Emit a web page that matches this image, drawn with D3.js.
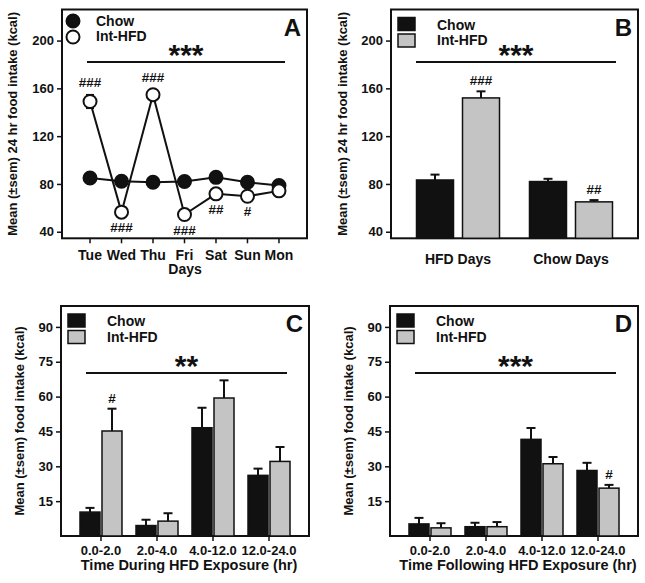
<!DOCTYPE html>
<html>
<head>
<meta charset="utf-8">
<script src="https://cdn.jsdelivr.net/npm/d3@7"></script>
<style>
  body { margin: 0; background: #fff; }
  text { font-family: "Liberation Sans", Arial, sans-serif; font-weight: bold; fill: #111; }
</style>
</head>
<body>
<svg id="chart" width="645" height="583"></svg>
<script>
// ---- data ----
var days = ["Tue", "Wed", "Thu", "Fri", "Sat", "Sun", "Mon"];
var chowDaily = [85, 82.2, 81.4, 82, 85.5, 81.4, 78.6];
var chowDailySem = [2, 2, 2, 2, 2, 2, 2];
var hfdDaily = [149, 56.4, 154.7, 54.4, 71.7, 69.7, 74.2];
var hfdDailySem = [5.5, 2, 4, 2, 2, 2, 2];
var hfdDailySig = ["###", "###", "###", "###", "##", "#", ""];

var dayTypes = ["HFD Days", "Chow Days"];
var chowDayType = [83.3, 82];
var chowDayTypeSem = [4.5, 2.3];
var hfdDayType = [152, 65];
var hfdDayTypeSem = [5.5, 1.5];
var hfdDayTypeSig = ["###", "##"];

var bins = ["0.0-2.0", "2.0-4.0", "4.0-12.0", "12.0-24.0"];
var chowDuring = [10.3, 4.5, 46.6, 26.1];
var chowDuringSem = [1.8, 2.5, 8.6, 2.9];
var hfdDuring = [45.2, 6.4, 59.4, 32.1];
var hfdDuringSem = [9.6, 3.4, 7.6, 6.2];
var hfdDuringSig = ["#", "", "", ""];

var chowAfter = [5.2, 4, 41.6, 28.2];
var chowAfterSem = [2.6, 1.7, 4.9, 3.3];
var hfdAfter = [3.5, 4, 31.1, 20.6];
var hfdAfterSem = [2, 2, 2.9, 1.4];
var hfdAfterSig = ["", "", "", "#"];

var kcalTicks = [40, 80, 120, 160, 200];
var hourTicks = [15, 30, 45, 60, 75, 90];
var seriesNames = ["Chow", "Int-HFD"];

var svg = d3.select("#chart");
var GRAY = "#c4c4c4";

// frame, y axis, title, panel letter, significance bar
function setupPanel(box, yDomain, yTicks, yTitle, titleOff, letter, stars) {
    var g = svg.append("g");
    var y = d3.scaleLinear().domain(yDomain).range([box.b, box.t]);

    var ax = g.append("g")
        .attr("transform", "translate(" + box.l + ",0)")
        .call(d3.axisLeft(y).tickValues(yTicks).tickSize(5).tickPadding(3));
    ax.select(".domain").remove();
    ax.selectAll(".tick line").attr("stroke", "#111").attr("stroke-width", 1.5);
    ax.selectAll(".tick text")
        .attr("font-size", 13)
        .attr("font-family", "Liberation Sans, Arial, sans-serif")
        .attr("font-weight", "bold");

    g.append("text")
        .attr("transform", "rotate(-90)")
        .attr("x", -(box.t + box.b) / 2)
        .attr("y", box.l - titleOff)
        .attr("text-anchor", "middle")
        .attr("font-size", 13)
        .text(yTitle);

    g.append("rect")
        .attr("x", box.l).attr("y", box.t)
        .attr("width", box.r - box.l).attr("height", box.b - box.t)
        .attr("fill", "none").attr("stroke", "#111").attr("stroke-width", 2);

    g.append("text")
        .attr("x", box.r - 6).attr("y", box.t + 26)
        .attr("text-anchor", "end")
        .attr("font-size", 24)
        .text(letter);

    var x1 = box.l + 25, x2 = box.r - 22;
    g.append("line")
        .attr("x1", x1).attr("x2", x2)
        .attr("y1", box.sigY).attr("y2", box.sigY)
        .attr("stroke", "#111").attr("stroke-width", 2);
    g.append("text")
        .attr("x", (x1 + x2) / 2).attr("y", box.sigY + 3)
        .attr("text-anchor", "middle")
        .attr("font-size", 30)
        .text(stars);

    return { g: g, y: y };
}

function squareLegend(g, box) {
    var leg = g.append("g");
    seriesNames.forEach(function(name, i) {
        leg.append("rect")
            .attr("x", box.l + 7).attr("y", box.t + 8 + i * 16.5)
            .attr("width", 17).attr("height", 13)
            .attr("fill", i == 0 ? "#111" : GRAY)
            .attr("stroke", "#111").attr("stroke-width", 1.5);
        leg.append("text")
            .attr("x", box.l + 46).attr("y", box.t + 20 + i * 15.5)
            .attr("font-size", 14)
            .text(name);
    });
}

function errUp(g, x, yTop, yBase, half) {
    g.append("line").attr("x1", x).attr("x2", x).attr("y1", yBase).attr("y2", yTop)
        .attr("stroke", "#111").attr("stroke-width", 2);
    g.append("line").attr("x1", x - half).attr("x2", x + half).attr("y1", yTop).attr("y2", yTop)
        .attr("stroke", "#111").attr("stroke-width", 2);
}

// grouped bar panel
function barPanel(box, cats, chow, chowSem, hfd, hfdSem, sig, yDomain, yTicks, yTitle, titleOff,
                  letter, stars, xTitle, opts) {
    var p = setupPanel(box, yDomain, yTicks, yTitle, titleOff, letter, stars);
    var g = p.g, y = p.y;
    var x = d3.scalePoint().domain(cats).range([box.l, box.r]).padding(opts.pad);

    if (opts.ticks) {
        cats.forEach(function(c) {
            g.append("line").attr("x1", x(c)).attr("x2", x(c))
                .attr("y1", box.b).attr("y2", box.b + 5)
                .attr("stroke", "#111").attr("stroke-width", 1.5);
        });
    }
    g.selectAll(".xlab").data(cats).enter().append("text")
        .attr("x", function(d) { return x(d); })
        .attr("y", box.b + opts.labOff)
        .attr("text-anchor", "middle")
        .attr("font-size", opts.labSize)
        .text(function(d) { return d; });
    if (xTitle) {
        g.append("text")
            .attr("x", (box.l + box.r) / 2 + 4).attr("y", box.b + 33.5)
            .attr("text-anchor", "middle").attr("font-size", 14.5)
            .text(xTitle);
    }

    var bw = opts.bw, gap = opts.gap;
    var series = [
        { v: chow, s: chowSem, off: -gap / 2 - bw, fill: "#111" },
        { v: hfd, s: hfdSem, off: gap / 2, fill: GRAY }
    ];
    series.forEach(function(se) {
        cats.forEach(function(c, i) {
            var bx = x(c) + se.off;
            errUp(g, bx + bw / 2, y(se.v[i] + se.s[i]), y(se.v[i]), 4.5);
            g.append("rect")
                .attr("x", bx).attr("y", y(se.v[i]))
                .attr("width", bw).attr("height", y(yDomain[0]) - y(se.v[i]))
                .attr("fill", se.fill).attr("stroke", "#111").attr("stroke-width", 1.5);
        });
    });
    cats.forEach(function(c, i) {
        if (!sig[i]) return;
        g.append("text")
            .attr("x", x(c) + gap / 2 + bw / 2)
            .attr("y", y(hfd[i] + hfdSem[i]) - 6)
            .attr("text-anchor", "middle").attr("font-size", 13.5)
            .text(sig[i]);
    });
    squareLegend(g, box);
}

// ---- Panel A ----
(function() {
    var box = { l: 62, r: 307, t: 9.5, b: 238.3, sigY: 62 };
    var p = setupPanel(box, [34.5, 226], kcalTicks, "Mean (\u00b1sem) 24 hr food intake (kcal)", 45, "A", "***");
    var g = p.g, y = p.y;
    var x = d3.scalePoint().domain(days).range([box.l, box.r]).padding(0.89);

    days.forEach(function(d) {
        g.append("line").attr("x1", x(d)).attr("x2", x(d))
            .attr("y1", box.b).attr("y2", box.b + 5)
            .attr("stroke", "#111").attr("stroke-width", 1.5);
    });
    g.selectAll(".xlab").data(days).enter().append("text")
        .attr("x", function(d) { return x(d); })
        .attr("y", box.b + 21.5)
        .attr("text-anchor", "middle").attr("font-size", 14)
        .text(function(d) { return d; });
    g.append("text").attr("x", 185).attr("y", box.b + 36)
        .attr("text-anchor", "middle").attr("font-size", 14).text("Days");

    var line = d3.line()
        .x(function(d, i) { return x(days[i]); })
        .y(function(d) { return y(d); });

    var sets = [
        { v: chowDaily, s: chowDailySem, fill: "#111" },
        { v: hfdDaily, s: hfdDailySem, fill: "#fff" }
    ];
    sets.forEach(function(se) {
        g.append("path").attr("d", line(se.v))
            .attr("fill", "none").attr("stroke", "#111").attr("stroke-width", 2);
        se.v.forEach(function(v, i) {
            var cx = x(days[i]);
            g.append("line").attr("x1", cx).attr("x2", cx)
                .attr("y1", y(v - se.s[i])).attr("y2", y(v + se.s[i]))
                .attr("stroke", "#111").attr("stroke-width", 2);
            [v - se.s[i], v + se.s[i]].forEach(function(e) {
                g.append("line").attr("x1", cx - 4).attr("x2", cx + 4)
                    .attr("y1", y(e)).attr("y2", y(e))
                    .attr("stroke", "#111").attr("stroke-width", 2);
            });
        });
        g.selectAll(null).data(se.v).enter().append("circle")
            .attr("cx", function(d, i) { return x(days[i]); })
            .attr("cy", function(d) { return y(d); })
            .attr("r", 6.5)
            .attr("fill", se.fill).attr("stroke", "#111").attr("stroke-width", 2);
    });

    hfdDaily.forEach(function(v, i) {
        if (!hfdDailySig[i]) return;
        var above = v > chowDaily[i];
        g.append("text")
            .attr("x", x(days[i]))
            .attr("y", above ? y(v + hfdDailySem[i]) - 8 : y(v) + 20)
            .attr("text-anchor", "middle").attr("font-size", 13.5)
            .text(hfdDailySig[i]);
    });

    // legend
    seriesNames.forEach(function(name, i) {
        g.append("circle").attr("cx", box.l + 11).attr("cy", box.t + 11.5 + i * 16)
            .attr("r", 6.5).attr("fill", i == 0 ? "#111" : "#fff")
            .attr("stroke", "#111").attr("stroke-width", 2);
        g.append("text").attr("x", box.l + 34).attr("y", box.t + 16 + i * 15.3)
            .attr("font-size", 14).text(name);
    });
})();

// ---- Panel B ----
barPanel({ l: 391, r: 638, t: 9.5, b: 238.3, sigY: 62 }, dayTypes,
    chowDayType, chowDayTypeSem, hfdDayType, hfdDayTypeSem, hfdDayTypeSig,
    [34.5, 226], kcalTicks, "Mean (\u00b1sem) 24 hr food intake (kcal)", 44, "B", "***", null,
    { pad: 0.593, bw: 37, gap: 9, ticks: false, labOff: 26, labSize: 14 });

// ---- Panel C ----
barPanel({ l: 61, r: 309, t: 306, b: 536, sigY: 373 }, bins,
    chowDuring, chowDuringSem, hfdDuring, hfdDuringSem, hfdDuringSig,
    [0, 99], hourTicks, "Mean (\u00b1sem) food intake (kcal)", 37, "C", "**",
    "Time During HFD Exposure (hr)",
    { pad: 0.714, bw: 20, gap: 2, ticks: true, labOff: 19, labSize: 13 });

// ---- Panel D ----
barPanel({ l: 390, r: 638, t: 306, b: 536, sigY: 373 }, bins,
    chowAfter, chowAfterSem, hfdAfter, hfdAfterSem, hfdAfterSig,
    [0, 99], hourTicks, "Mean (\u00b1sem) food intake (kcal)", 37, "D", "***",
    "Time Following HFD Exposure (hr)",
    { pad: 0.714, bw: 20, gap: 2, ticks: true, labOff: 19, labSize: 13 });
</script>
</body>
</html>
